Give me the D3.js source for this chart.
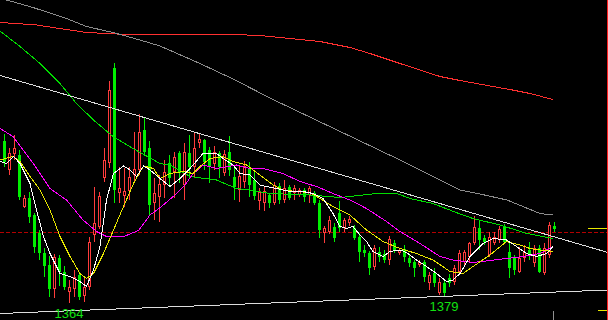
<!DOCTYPE html>
<html>
<head>
<meta charset="utf-8">
<script src="https://cdn.jsdelivr.net/npm/d3@7"></script>
<style>
  html, body { margin: 0; padding: 0; background: #000; overflow: hidden; }
  svg { display: block; }
</style>
</head>
<body>
<svg id="chart" width="608" height="320"></svg>
<script>
// candle data, one entry per bar (price units)
const opens = [1688, 1630, 1662, 1660, 1556, 1574, 1540, 1504, 1464, 1440,
  1392, 1454, 1426, 1386, 1392, 1420, 1378, 1396, 1500, 1516,
  1614, 1644, 1834, 1584, 1578, 1588, 1620, 1630, 1710, 1674,
  1564, 1576, 1600, 1644, 1626, 1664, 1600, 1664, 1636, 1684,
  1690, 1670, 1642, 1664, 1624, 1666, 1616, 1590, 1606, 1634,
  1610, 1568, 1564, 1580, 1564, 1598, 1570, 1596, 1584, 1580,
  1590, 1580, 1584, 1564, 1504, 1506, 1516, 1544, 1514, 1524,
  1514, 1496, 1470, 1464, 1436, 1466, 1462, 1450, 1484, 1464,
  1472, 1454, 1446, 1440, 1446, 1404, 1424, 1384, 1404, 1414,
  1406, 1426, 1446, 1456, 1484, 1514, 1494, 1460, 1484, 1490,
  1516, 1466, 1454, 1426, 1454, 1470, 1444, 1474, 1424, 1460,
  1518]
const closes = [1646, 1664, 1674, 1576, 1574, 1536, 1476, 1464, 1438, 1392,
  1456, 1426, 1396, 1396, 1416, 1376, 1396, 1486, 1524, 1578,
  1650, 1790, 1590, 1594, 1588, 1616, 1632, 1706, 1666, 1560,
  1584, 1602, 1626, 1614, 1656, 1624, 1666, 1636, 1674, 1692,
  1646, 1638, 1666, 1636, 1662, 1630, 1596, 1618, 1638, 1600,
  1578, 1586, 1588, 1564, 1600, 1570, 1594, 1574, 1594, 1590,
  1576, 1594, 1564, 1510, 1514, 1530, 1494, 1514, 1530, 1532,
  1494, 1466, 1464, 1434, 1474, 1456, 1450, 1492, 1470, 1470,
  1456, 1444, 1434, 1446, 1416, 1420, 1404, 1406, 1384, 1404,
  1434, 1464, 1466, 1484, 1516, 1490, 1486, 1496, 1496, 1512,
  1486, 1434, 1430, 1454, 1466, 1460, 1474, 1426, 1474, 1520,
  1512]
const highs = [1702, 1674, 1700, 1670, 1580, 1586, 1544, 1510, 1474, 1458,
  1462, 1460, 1438, 1410, 1430, 1424, 1416, 1496, 1596, 1586,
  1674, 1808, 1844, 1636, 1634, 1636, 1706, 1742, 1734, 1688,
  1614, 1620, 1650, 1660, 1666, 1668, 1684, 1700, 1704, 1704,
  1692, 1676, 1678, 1668, 1670, 1698, 1640, 1640, 1648, 1646,
  1626, 1594, 1598, 1584, 1606, 1604, 1610, 1600, 1600, 1594,
  1594, 1598, 1588, 1570, 1518, 1538, 1524, 1568, 1534, 1538,
  1520, 1504, 1480, 1468, 1480, 1476, 1470, 1498, 1490, 1474,
  1480, 1460, 1450, 1450, 1450, 1426, 1434, 1414, 1410, 1422,
  1440, 1470, 1470, 1486, 1538, 1530, 1500, 1506, 1506, 1518,
  1522, 1484, 1460, 1476, 1480, 1486, 1480, 1480, 1484, 1526,
  1526]
const lows = [1636, 1620, 1650, 1570, 1554, 1524, 1464, 1450, 1416, 1376,
  1374, 1398, 1390, 1364, 1376, 1370, 1366, 1390, 1486, 1512,
  1606, 1634, 1564, 1564, 1556, 1570, 1604, 1620, 1658, 1540,
  1530, 1526, 1574, 1596, 1574, 1604, 1570, 1614, 1616, 1674,
  1630, 1604, 1630, 1614, 1618, 1618, 1570, 1566, 1594, 1576,
  1570, 1550, 1548, 1554, 1560, 1562, 1564, 1570, 1570, 1576,
  1566, 1564, 1560, 1494, 1484, 1502, 1486, 1506, 1506, 1518,
  1490, 1446, 1456, 1420, 1430, 1446, 1444, 1440, 1464, 1460,
  1446, 1436, 1416, 1436, 1406, 1390, 1396, 1380, 1379, 1396,
  1400, 1424, 1440, 1446, 1480, 1470, 1480, 1456, 1480, 1484,
  1484, 1414, 1420, 1424, 1446, 1450, 1436, 1424, 1420, 1454,
  1506]

// moving averages: [bar index, price]
const ma5 = [[-0.8, 1647], [0.5, 1643], [1.9, 1657], [3.2, 1643], [5.2, 1603], [6.5, 1550],
  [7.9, 1497], [9.2, 1463], [11.2, 1423], [13.2, 1417], [15.2, 1407], [16.5, 1397],
  [17.9, 1430], [19.2, 1477], [20.5, 1570], [21.9, 1623], [23.9, 1638], [25.2, 1630],
  [26.5, 1617], [27.9, 1638], [29.2, 1630], [31.2, 1613], [33.2, 1597], [35.2, 1613],
  [37.2, 1633], [39.8, 1663], [42.5, 1663], [43.8, 1653], [45.8, 1640], [47.2, 1623],
  [49.2, 1620], [51.2, 1600], [52.5, 1597], [54.5, 1593], [57.2, 1587], [59.8, 1587],
  [61.8, 1583], [63.8, 1573], [65.8, 1543], [67.2, 1517], [68.5, 1513], [69.8, 1517],
  [71.2, 1500], [72.5, 1487], [73.8, 1467], [75.8, 1457], [77.2, 1467], [79.2, 1470],
  [80.5, 1465], [82.5, 1450], [84.5, 1437], [86.5, 1423], [88.5, 1407], [89.8, 1410],
  [91.2, 1423], [93.2, 1457], [95.8, 1483], [97.8, 1493], [100.5, 1490], [102.5, 1477],
  [104.5, 1463], [106.5, 1457], [108.5, 1463], [109.8, 1477]]
const ma10 = [[-0.8, 1650], [1.8, 1657], [3.2, 1647], [5.2, 1617], [7.2, 1590], [9.2, 1550],
  [11.2, 1497], [13.2, 1457], [15.2, 1423], [16.5, 1413], [17.9, 1423], [19.9, 1463],
  [21.9, 1510], [23.9, 1557], [25.9, 1603], [27.9, 1638], [29.9, 1633], [31.2, 1613],
  [33.2, 1623], [35.8, 1627], [37.8, 1623], [39.2, 1637], [41.2, 1653], [43.8, 1657],
  [45.8, 1647], [48.5, 1640], [51.2, 1620], [53.8, 1600], [55.8, 1590], [58.5, 1587],
  [61.2, 1585], [63.2, 1573], [65.8, 1557], [69.2, 1540], [72.5, 1510], [75.8, 1487],
  [79.2, 1473], [82.5, 1463], [85.8, 1450], [89.2, 1427], [91.8, 1423], [93.8, 1437],
  [97.2, 1460], [100.5, 1487], [103.2, 1480], [105.2, 1473], [107.2, 1470], [109.8, 1467]]
const ma20 = [[-0.8, 1713], [1.8, 1697], [3.8, 1670], [5.8, 1644], [9.2, 1593], [12.5, 1570],
  [15.8, 1530], [18.5, 1507], [20.5, 1497], [24.2, 1498], [26.9, 1509], [29.2, 1540],
  [31.5, 1557], [34.2, 1580], [36.2, 1600], [37.6, 1620], [39.8, 1640], [42.5, 1633],
  [46.5, 1640], [49.2, 1633], [51.8, 1633], [55.8, 1623], [59.2, 1607], [62.5, 1597],
  [65.8, 1583], [69.2, 1570], [72.5, 1553], [76.5, 1527], [79.2, 1507], [83.2, 1483],
  [87.2, 1457], [89.8, 1450], [93.8, 1445], [97.2, 1449], [100.5, 1453], [103.8, 1457],
  [107.2, 1463], [109.8, 1477]]
const ma60 = [[-0.8, 1908], [3.2, 1877], [7.2, 1843], [11.2, 1803], [14.5, 1763], [17.9, 1730],
  [21.8, 1697], [25.8, 1673], [31.2, 1643], [33.2, 1640], [37.2, 1617], [42.5, 1610],
  [46.5, 1593], [49.2, 1590], [53.2, 1583], [61.2, 1580], [67.2, 1575], [74.6, 1583],
  [78.6, 1583], [81.2, 1573], [85.8, 1563], [91.2, 1542], [93.8, 1533], [99.2, 1520],
  [104.6, 1503], [109.8, 1493]]
const ma120 = [[-0.8, 1975], [0.5, 1970], [5.8, 1955], [12.5, 1933], [16.5, 1917], [21.8, 1905],
  [27.2, 1890], [31.2, 1878], [39.2, 1843], [45.8, 1812], [53.8, 1771], [79.2, 1650],
  [91.2, 1590], [95.2, 1582], [100.6, 1570], [107.2, 1543], [109.8, 1540]]
const ma250 = [[-0.8, 1925], [2.5, 1923], [6.5, 1920], [9.8, 1915], [14.5, 1908], [16.5, 1905],
  [24.5, 1901], [34.5, 1900], [45.8, 1901], [51.2, 1899], [59.2, 1891], [63.2, 1887],
  [69.2, 1875], [73.2, 1863], [79.2, 1843], [87.2, 1817], [91.2, 1809], [97.2, 1798],
  [101.2, 1791], [105.2, 1783], [109.8, 1771]]

const trendTop = [[-0.8, 1819], [120.8, 1465]]
const trendBottom = [[-0.8, 1343], [120.8, 1390]]
const refPrice = 1506
const lowMarks = [[13, '1364'], [88, '1379']]
const sideMarks = [[1515, 20], [1350, 10]]

const W = 608, H = 320
const svg = d3.select('#chart')

const x = d3.scaleLinear().domain([0, 110]).range([4, 554])
const y = d3.scaleLinear().domain([1330, 1970]).range([H, 0])

const px = v => Math.round(v) + 0.5
const red = '#ff3c3c'
const green = '#00f000'

// reference dashed line
svg.append('line')
  .attr('x1', 0).attr('x2', W)
  .attr('y1', px(y(refPrice))).attr('y2', px(y(refPrice)))
  .attr('stroke', '#b40000')
  .attr('stroke-dasharray', '4,2')
  .attr('shape-rendering', 'crispEdges')

// candles
const bars = d3.range(opens.length).map(i => ({
  i: i, o: opens[i], c: closes[i], h: highs[i], l: lows[i]
}))

const g = svg.append('g').attr('shape-rendering', 'crispEdges')

bars.forEach(d => {
  const cx = Math.round(x(d.i))
  const up = d.c >= d.o
  const yo = Math.round(y(d.o)), yc = Math.round(y(d.c))
  const yh = Math.round(y(d.h)), yl = Math.round(y(d.l))
  if (up) {
    g.append('line').attr('x1', cx + 0.5).attr('x2', cx + 0.5)
      .attr('y1', yh).attr('y2', yc).attr('stroke', red)
    g.append('line').attr('x1', cx + 0.5).attr('x2', cx + 0.5)
      .attr('y1', yo).attr('y2', yl).attr('stroke', red)
    g.append('rect')
      .attr('x', cx - 0.5).attr('width', 2)
      .attr('y', yc + 0.5).attr('height', Math.max(0, yo - yc - 1))
      .attr('fill', '#000').attr('stroke', red)
  } else {
    g.append('line').attr('x1', cx + 0.5).attr('x2', cx + 0.5)
      .attr('y1', yh).attr('y2', yl).attr('stroke', green)
    g.append('rect')
      .attr('x', cx - 1).attr('width', 3)
      .attr('y', yo).attr('height', Math.max(1, yc - yo))
      .attr('fill', green)
  }
})

// moving averages
const line = d3.line().x(d => x(d[0])).y(d => y(d[1]))
const series = [
  [ma250, '#ff3030'],
  [ma120, '#8c8c8c'],
  [ma60, '#00dd00'],
  [ma20, '#ff00ff'],
  [ma10, '#e8e800'],
  [ma5, '#ffffff']
]
series.forEach(s => {
  svg.append('path')
    .attr('d', line(s[0]))
    .attr('fill', 'none')
    .attr('stroke', s[1])
    .attr('stroke-width', 1)
    .attr('shape-rendering', 'crispEdges')
})

// trend lines
;[trendTop, trendBottom].forEach(t => {
  svg.append('path')
    .attr('d', line(t))
    .attr('fill', 'none')
    .attr('stroke', '#dcdcdc')
    .attr('shape-rendering', 'crispEdges')
})

// low labels
lowMarks.forEach(m => {
  svg.append('text')
    .attr('x', x(m[0]))
    .attr('y', y(lows[m[0]]) + 15)
    .attr('text-anchor', 'middle')
    .attr('font-family', 'Liberation Sans, Arial, sans-serif')
    .attr('font-size', 13)
    .attr('fill', '#12e012')
    .text(m[1])
})

// right edge markers
sideMarks.forEach(m => {
  svg.append('line')
    .attr('x1', W - m[1]).attr('x2', W)
    .attr('y1', px(y(m[0]))).attr('y2', px(y(m[0])))
    .attr('stroke', '#e8e800')
    .attr('shape-rendering', 'crispEdges')
})
svg.append('line')
  .attr('x1', W - 0.5).attr('x2', W - 0.5)
  .attr('y1', 0).attr('y2', H)
  .attr('stroke', '#ff2020')
  .attr('shape-rendering', 'crispEdges')
svg.append('line')
  .attr('x1', px(x(110)) - 1).attr('x2', px(x(110)) - 1)
  .attr('y1', H - 9).attr('y2', H)
  .attr('stroke', '#909090')
  .attr('shape-rendering', 'crispEdges')
</script>
</body>
</html>
